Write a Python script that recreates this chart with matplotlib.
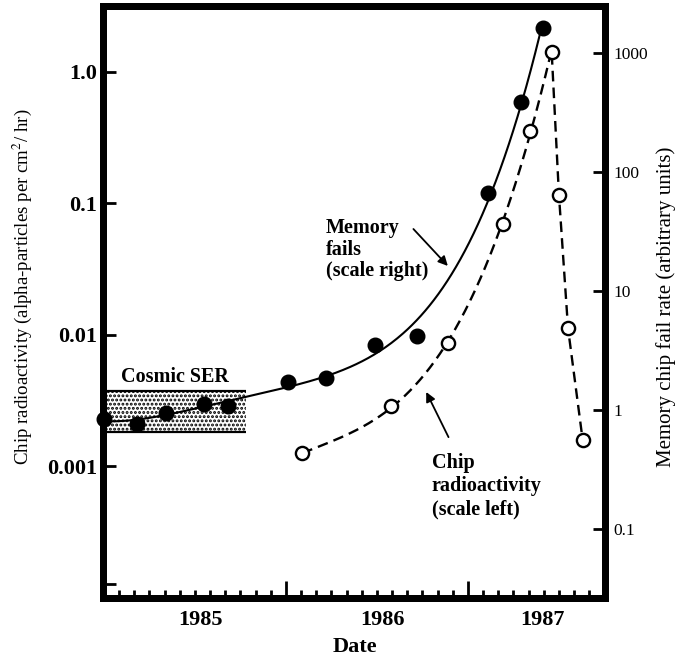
"""
plot.py -- chip radioactivity vs memory chip fail rate, 1985-1987 (log/log twin axes).
"""
import numpy as np
import matplotlib
matplotlib.use("Agg")
import matplotlib.pyplot as plt
from matplotlib.ticker import FixedLocator, NullLocator
from matplotlib.transforms import blended_transform_factory

# memory chip fail rate (right axis, filled circles)
FAIL_DATE = [1985.00, 1985.18, 1985.34, 1985.55, 1985.68, 1986.01, 1986.22,
             1986.49, 1986.72, 1987.11, 1987.29, 1987.41]
FAIL_RATE = [0.84, 0.76, 0.94, 1.12, 1.08, 1.72, 1.86, 3.5, 4.2, 66, 387, 1620]

# chip radioactivity (left axis, open circles)
RAD_DATE = [1986.09, 1986.58, 1986.89, 1987.19, 1987.34, 1987.46,
            1987.50, 1987.55, 1987.63]
RAD_LEVEL = [0.00126, 0.00286, 0.00875, 0.070, 0.356, 1.42,
             0.116, 0.0112, 0.0016]

# cosmic soft-error-rate band (left axis units)
SER_DATES = [1985.0, 1985.78]
SER_LOW, SER_HIGH = 0.00182, 0.00372

LEFT_TICKS = [0.000127, 0.001, 0.01, 0.1, 1.0]
LEFT_LABELS = ["", "0.001", "0.01", "0.1", "1.0"]
RIGHT_TICKS = [0.1, 1, 10, 100, 1000]
RIGHT_LABELS = ["0.1", "1", "10", "100", "1000"]
YEAR_TICKS = [1986, 1987]
YEARS = ["1985", "1986", "1987"]
YEAR_LABEL_X = [1985.53, 1986.53, 1987.41]

plt.rcParams["font.family"] = ["Liberation Serif", "DejaVu Serif"]
plt.rcParams["mathtext.fontset"] = "stix"
plt.rcParams["hatch.linewidth"] = 1.4

W, H = 677, 657
fig = plt.figure(figsize=(W / 100, H / 100), dpi=100)
L, R, T, B = 103, 605, 5.5, 598
ax = fig.add_axes([L / W, 1 - B / H, (R - L) / W, (B - T) / H])
ax2 = ax.twinx()

ax.set_xlim(1984.995, 1987.753)
ax.set_yscale("log")
ax.set_ylim(1.0e-4, 3.2)
ax2.set_yscale("log")
ax2.set_ylim(0.0263, 2506)

# cosmic SER band
ax.fill_between(SER_DATES, SER_LOW, SER_HIGH, facecolor="white",
                edgecolor="black", hatch="....", linewidth=0, zorder=1)
ax.hlines([SER_LOW, SER_HIGH], *SER_DATES, color="black", lw=1.6, zorder=2)
ax.text(1985.39, 0.00475, "Cosmic SER", ha="center", va="center",
        fontsize=14.5, fontweight="bold")

# memory fails: quartic trend in log space
pf = np.polyfit(np.asarray(FAIL_DATE) - FAIL_DATE[0], np.log10(FAIL_RATE), 4)
xs = np.linspace(FAIL_DATE[0], FAIL_DATE[-1], 300)
ax2.plot(xs, 10 ** np.polyval(pf, xs - FAIL_DATE[0]),
         color="black", lw=1.5, zorder=3)
ax2.plot(FAIL_DATE, FAIL_RATE, "o", ms=10.5, color="black", zorder=4,
         clip_on=False)

# chip radioactivity: cubic in log space on the rise, straight after the peak
pk = int(np.argmax(RAD_LEVEL))
p = np.polyfit(RAD_DATE[:pk + 1], np.log10(RAD_LEVEL[:pk + 1]), 3)
xr = np.linspace(RAD_DATE[0], RAD_DATE[pk], 200)
xd = np.concatenate([xr, RAD_DATE[pk:]])
yd = np.concatenate([10 ** np.polyval(p, xr), RAD_LEVEL[pk:]])
ax.plot(xd, yd, color="black", lw=1.7, dashes=(4.5, 2.6), zorder=3)
ax.plot(RAD_DATE, RAD_LEVEL, "o", ms=9.5, mfc="white", mec="black", mew=1.7,
        zorder=4)

# annotations
ax2.annotate("", xy=(1986.90, 15.6), xytext=(1986.69, 34.5),
             arrowprops=dict(arrowstyle="-|>", color="black", lw=1.3,
                             mutation_scale=14))
ax2.text(1986.22, 22.1, "Memory\nfails\n(scale right)", ha="left",
         va="center", fontsize=14.5, fontweight="bold", linespacing=1.1)
ax.annotate("", xy=(1986.764, 0.00385), xytext=(1986.90, 0.0016),
            arrowprops=dict(arrowstyle="-|>", color="black", lw=1.3,
                            mutation_scale=14))
ax.text(1986.80, 0.000706, "Chip\nradioactivity\n(scale left)", ha="left",
        va="center", fontsize=14.5, fontweight="bold", linespacing=1.2)

# axes styling
for a in (ax, ax2):
    for s in a.spines.values():
        s.set_linewidth(5)
        s.set_color("black")

ax.xaxis.set_major_locator(FixedLocator(YEAR_TICKS))
ax.xaxis.set_minor_locator(FixedLocator(
    [1985 + k / 12 for k in range(1, 34) if k % 12]))
ax.tick_params(axis="x", which="major", direction="in", length=12, width=2,
               labelbottom=False, top=False)
ax.tick_params(axis="x", which="minor", direction="in", length=6, width=2,
               top=False)
tr = blended_transform_factory(ax.transData, ax.transAxes)
for xl, yl in zip(YEAR_LABEL_X, YEARS):
    ax.text(xl, -(625 - B) / (B - T), yl, transform=tr, ha="center",
            va="baseline", fontsize=16, fontweight="bold")

ax.yaxis.set_major_locator(FixedLocator(LEFT_TICKS))
ax.yaxis.set_minor_locator(NullLocator())
ax.set_yticklabels(LEFT_LABELS, fontsize=16, fontweight="bold")
ax.tick_params(axis="y", direction="in", length=9, width=2, pad=4.3,
               right=False)

ax2.yaxis.set_major_locator(FixedLocator(RIGHT_TICKS))
ax2.yaxis.set_minor_locator(NullLocator())
ax2.set_yticklabels(RIGHT_LABELS, fontsize=12.5)
ax2.tick_params(axis="y", direction="in", length=9, width=2, pad=5.8,
                left=False)

fig.text(22 / W, 1 - 287 / H,
         "Chip radioactivity (alpha-particles per cm$^2$/ hr)",
         rotation=90, ha="center", va="center", fontsize=13.6)
fig.text(666 / W, 1 - 307 / H, "Memory chip fail rate (arbitrary units)",
         rotation=90, ha="center", va="center", fontsize=15)
fig.text(355 / W, 1 - 652 / H, "Date", ha="center", va="baseline",
         fontsize=16, fontweight="bold")

fig.savefig("out.png", dpi=100)
